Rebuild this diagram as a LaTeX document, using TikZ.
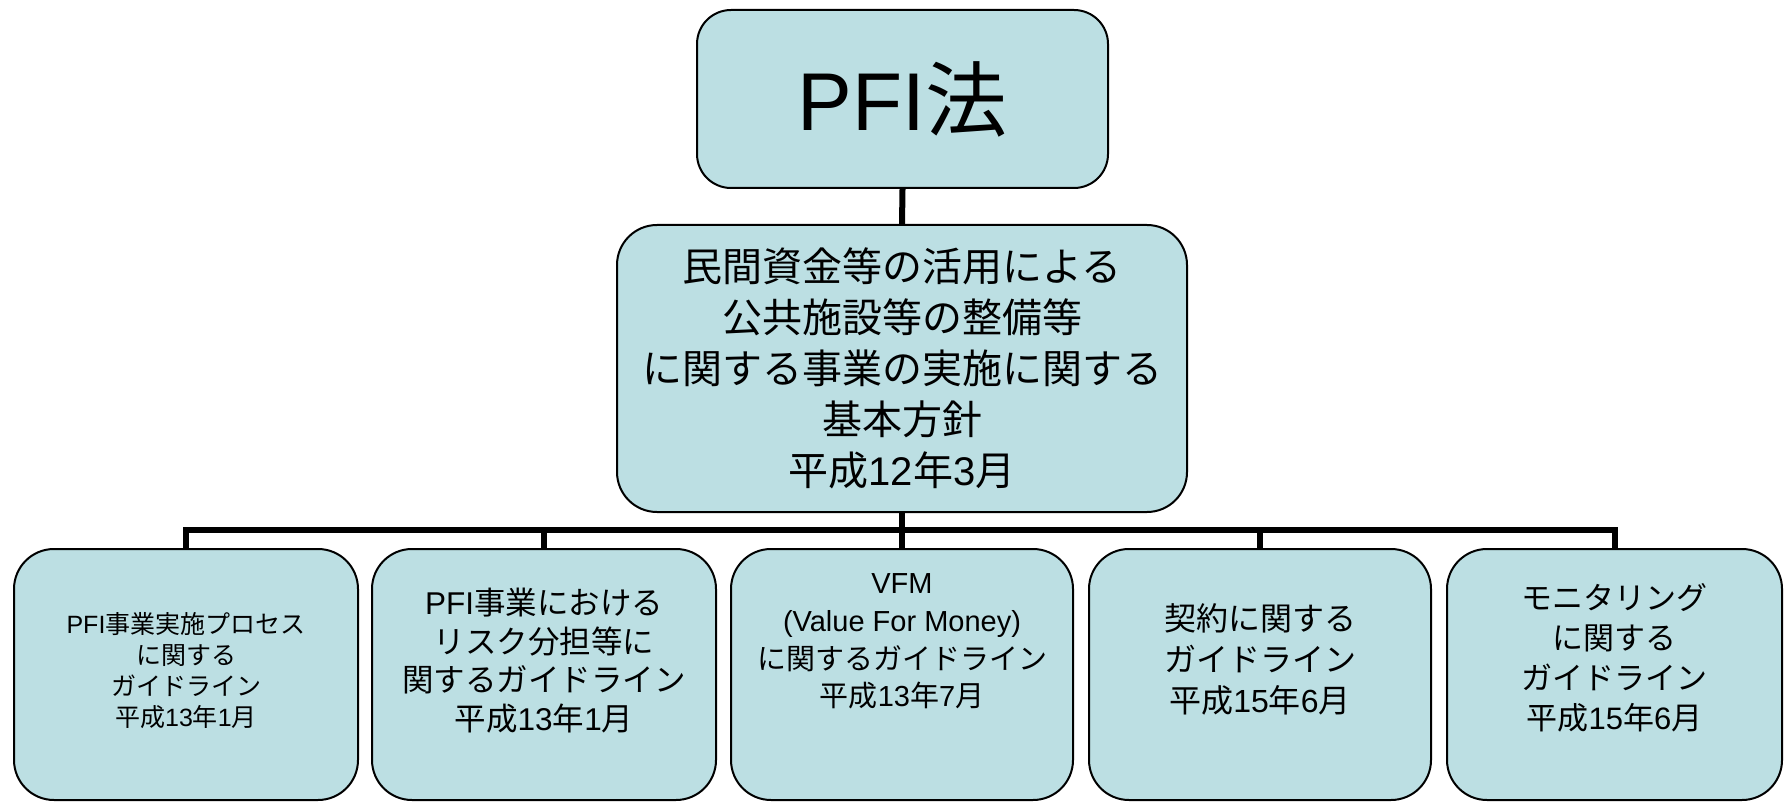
\documentclass[tikz,border=0pt]{standalone}
\usepackage{fontspec}
\setmainfont{Noto Sans CJK JP}
\newfontfamily\latfont{Liberation Sans}
\newcommand\latn[1]{{\latfont #1}}
\definecolor{boxfill}{RGB}{188,223,227}
\begin{document}
\begin{tikzpicture}[x=1pt,y=-1pt,
  box/.style={draw=black, line width=2pt, fill=boxfill, inner sep=0pt},
  conn/.style={draw=black, line width=6pt, line join=miter},
  txt/.style={align=center, inner sep=0pt, text=black}]
\useasboundingbox (0,0) rectangle (1784,802);
\clip (0,0) rectangle (1784,802);
\fill[white] (0,0) rectangle (1784,802);

% boxes
\node[box, rounded corners=34pt, minimum width=411pt, minimum height=178pt,
      txt, font={\fontsize{82}{90}\selectfont}] (top) at (902.5,99) {\latn{PFI}法};
\node[box, rounded corners=40pt, minimum width=570pt, minimum height=287pt,
      txt, font={\fontsize{40}{51}\selectfont}] (mid) at (902,368.5)
  {民間資金等の活用による\\公共施設等の整備等\\に関する事業の実施に関する\\基本方針\\平成\latn{12}年\latn{3}月};

\node[box, rounded corners=40pt, minimum width=344pt, minimum height=251pt] (b1) at (186,674.5) {};
\node[box, rounded corners=40pt, minimum width=344pt, minimum height=251pt] (b2) at (544,674.5) {};
\node[box, rounded corners=40pt, minimum width=342pt, minimum height=251pt] (b3) at (902,674.5) {};
\node[box, rounded corners=40pt, minimum width=342pt, minimum height=251pt] (b4) at (1260,674.5) {};
\node[box, rounded corners=40pt, minimum width=335pt, minimum height=251pt] (b5) at (1614.5,674.5) {};

% texts of the lower boxes
\node[txt, font={\fontsize{25}{31}\selectfont}] (t1) at (186,671)
  {\latn{PFI}事業実施プロセス\\に関する\\ガイドライン\\平成\latn{13}年\latn{1}月};
\node[txt, font={\fontsize{31.5}{38.5}\selectfont}] (t2) at (544,660.5)
  {\latn{PFI}事業における\\リスク分担等に\\関するガイドライン\\平成\latn{13}年\latn{1}月};
\node[txt, font={\fontsize{29}{37.8}\selectfont}] (t3) at (902,641.5)
  {\latn{VFM}\\\latn{(Value For Money)}\\に関するガイドライン\\平成\latn{13}年\latn{7}月};
\node[txt, font={\fontsize{32}{41}\selectfont}] (t4) at (1260,659)
  {契約に関する\\ガイドライン\\平成\latn{15}年\latn{6}月};
\node[txt, font={\fontsize{31}{40}\selectfont}] (t5) at (1614.5,658)
  {モニタリング\\に関する\\ガイドライン\\平成\latn{15}年\latn{6}月};

% connectors
\coordinate (busy) at (0,530);
\draw[conn] (top.south) -- (mid.north);
\draw[conn] (mid.south) -- (mid.south |- busy);
\draw[conn] (b1.north) -- (b1.north |- busy) -- (b5.north |- busy) -- (b5.north);
\draw[conn] (b2.north |- busy) -- (b2.north);
\draw[conn] (b3.north |- busy) -- (b3.north);
\draw[conn] (b4.north |- busy) -- (b4.north);
\end{tikzpicture}
\end{document}
